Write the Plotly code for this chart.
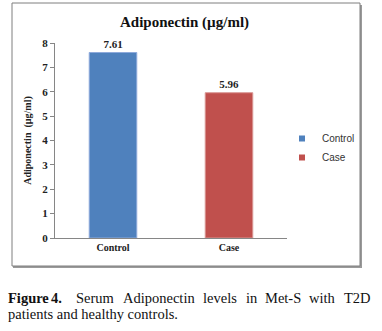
import plotly.graph_objects as go

categories = ["Control", "Case"]
values = [7.61, 5.96]
colors = ["#4F81BD", "#C0504D"]
edge_colors = ["#8EAADB", "#D99694"]
y_ticks = [0, 1, 2, 3, 4, 5, 6, 7, 8]

W, H = 382, 331
def px(x):
    return x / W
def py(y):
    return 1 - y / H

SERIF = "Liberation Serif"

fig = go.Figure()
for cat, val, col, ec in zip(categories, values, colors, edge_colors):
    fig.add_trace(go.Bar(
        x=[cat], y=[val], name=cat, width=0.41, showlegend=False,
        marker=dict(color=col, line=dict(color=ec, width=1)),
        text=[f"{val:.2f}"], textposition="outside", cliponaxis=False,
        textfont=dict(family=SERIF, size=11, color="#222222", weight="bold"),
    ))
# legend entries (small square keys)
for cat, col in zip(categories, colors):
    fig.add_trace(go.Scatter(
        x=[None], y=[None], mode="markers", name=cat,
        marker=dict(symbol="square", size=6, color=col),
    ))

shapes = [
    dict(type="rect", xref="paper", yref="paper", x0=px(13), x1=px(362), y0=py(268), y1=py(5),
         fillcolor="#9a9a9a", line=dict(width=0), layer="below"),
    dict(type="rect", xref="paper", yref="paper", x0=px(12), x1=px(360), y0=py(266), y1=py(3),
         fillcolor="white", line=dict(color="#7f7f7f", width=1), layer="below"),
]

annotations = [
    dict(text="<b>Adiponectin (µg/ml)</b>", x=px(184), y=py(23), xref="paper", yref="paper",
         showarrow=False, font=dict(family=SERIF, size=15, color="#111111"),
         xanchor="center", yanchor="middle"),
]

caption_words = [("<b>Figure</b>", 6), ("<b>4.</b>", 49), ("Serum", 74), ("Adiponectin", 121),
                 ("levels", 201), ("in", 244), ("Met-S", 263), ("with", 307), ("T2D", 342)]
for w, x0 in caption_words:
    annotations.append(dict(text=w, x=px(x0), y=py(298), xref="paper", yref="paper",
                            showarrow=False, xanchor="left", yanchor="middle",
                            font=dict(family=SERIF, size=14.5, color="#111111")))
annotations.append(dict(text="patients and healthy controls.", x=px(6), y=py(314), xref="paper",
                        yref="paper", showarrow=False, xanchor="left", yanchor="middle",
                        font=dict(family=SERIF, size=14.5, color="#111111")))

fig.update_layout(
    width=W, height=H,
    margin=dict(l=0, r=0, t=0, b=0, autoexpand=False),
    paper_bgcolor="white", plot_bgcolor="rgba(0,0,0,0)",
    barmode="overlay",
    showlegend=True,
    legend=dict(x=px(282), y=py(124), xanchor="left", yanchor="top",
                font=dict(family="Liberation Sans", size=10, color="#333333"),
                itemwidth=30, tracegroupgap=4, bgcolor="rgba(0,0,0,0)"),
    shapes=shapes,
    annotations=annotations,
    xaxis=dict(domain=[px(55), px(287)], showline=True, linecolor="#868686", linewidth=1,
               ticks="", showgrid=False,
               tickfont=dict(family=SERIF, size=10, color="#222222", weight="bold")),
    yaxis=dict(domain=[py(238), py(43)], range=[0, 8], tickvals=y_ticks,
               showline=True, linecolor="#868686", linewidth=1,
               ticks="outside", ticklen=4, tickcolor="#868686", showgrid=False, zeroline=False,
               tickfont=dict(family=SERIF, size=11, color="#222222", weight="bold"),
               title=dict(text="<b>Adiponectin  (µg/ml)</b>", standoff=8,
                          font=dict(family=SERIF, size=10, color="#222222"))),
)

fig.write_html("out.html")
